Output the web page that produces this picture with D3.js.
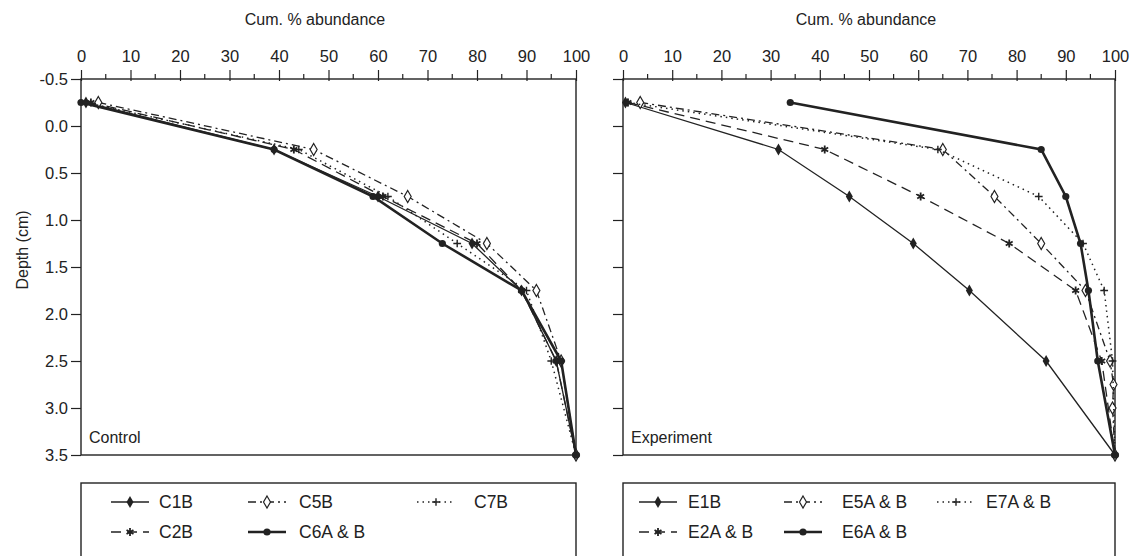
<!DOCTYPE html>
<html><head><meta charset="utf-8">
<script src="https://cdn.jsdelivr.net/npm/d3@7"></script>
<style>body{margin:0;background:#fff}svg text{font-family:"Liberation Sans",Arial,sans-serif;fill:#222}</style>
</head><body><svg id="c" width="1134" height="556"></svg>
<script>
const depths = [-0.25, 0.25, 0.75, 1.25, 1.75, 2.5, 3.5];
const depthsE5 = [-0.25, 0.25, 0.75, 1.25, 1.75, 2.5, 2.75, 3.0, 3.5];
const xTicks = [0,10,20,30,40,50,60,70,80,90,100];
const yTicks = [-0.5,0,0.5,1,1.5,2,2.5,3,3.5];
const controlNames = ["C1B","C2B","C5B","C6A & B","C7B"];
const C1B = [1, 39, 60, 79, 89, 96, 100];
const C2B = [2, 43, 61, 80, 89, 96, 100];
const C5B = [3.5, 47, 66, 82, 92, 97, 100];
const C6AB = [0, 39, 59, 73, 89, 97, 100];
const C7B = [1, 44, 62, 76, 90, 95, 100];
const expNames = ["E1B","E2A & B","E5A & B","E6A & B","E7A & B"];
const E1B = [0.5, 31.6, 46, 59, 70.4, 86, 100];
const E2AB = [1, 41, 60.5, 78.5, 92, 97.3, 100];
const E5AB = [3.5, 65, 75.5, 85, 94, 99, 99.7, 99.5, 100];
const E6AB = [34, 85, 90, 93, 94.6, 96.5, 100];
const E7AB = [1, 64, 84.5, 93.5, 97.8, 99.5, 100];

const styles = [
  {dash:null, w:1.3, marker:"diamond"},
  {dash:"10,6", w:1.3, marker:"star"},
  {dash:"8,4,2,4", w:1.3, marker:"odiamond"},
  {dash:null, w:2.6, marker:"circle"},
  {dash:"1.5,4", w:1.5, marker:"plus"}
];

const svg = d3.select("#c");
const yS = d3.scaleLinear().domain([-0.5,3.5]).range([79,455]);

const symAsterisk = {draw(ctx,size){const r=Math.sqrt(size)/2;for(let i=0;i<3;i++){const a=i*Math.PI/3+Math.PI/2;ctx.moveTo(r*Math.cos(a),r*Math.sin(a));ctx.lineTo(-r*Math.cos(a),-r*Math.sin(a));}}};
const symPlus = {draw(ctx,size){const r=Math.sqrt(size)/2;ctx.moveTo(-r,0);ctx.lineTo(r,0);ctx.moveTo(0,-r);ctx.lineTo(0,r);}};
function marker(g, type, x, y){
  const tr = `translate(${x},${y})`;
  if(type==="diamond") g.append("path").attr("d",d3.symbol(d3.symbolDiamond,42)()).attr("transform",tr).attr("fill","#222");
  else if(type==="odiamond") g.append("path").attr("d",d3.symbol(d3.symbolDiamond,42)()).attr("transform",tr).attr("fill","#fff").attr("stroke","#222").attr("stroke-width",1.2);
  else if(type==="circle") g.append("circle").attr("cx",x).attr("cy",y).attr("r",3.6).attr("fill","#222");
  else if(type==="plus") g.append("path").attr("d",d3.symbol(symPlus,60)()).attr("transform",tr).attr("fill","none").attr("stroke","#222").attr("stroke-width",1.4);
  else if(type==="star") g.append("path").attr("d",d3.symbol(symAsterisk,64)()).attr("transform",tr).attr("fill","none").attr("stroke","#222").attr("stroke-width",1.8);
}

function panel(x0,x1,series,depthSets,label,showY,names,legX,titleX){
  const xS = d3.scaleLinear().domain([0,100]).range([x0,x1]);
  const g = svg.append("g");
  g.append("text").attr("x",titleX).attr("y",25).attr("text-anchor","middle").attr("font-size",16).text("Cum. % abundance");
  const top = g.append("g").attr("transform",`translate(0,${yS(-0.5)})`);
  top.call(d3.axisTop(xS).tickValues(xTicks).tickSize(9).tickPadding(8).tickFormat(d3.format("d")));
  top.selectAll("text").attr("font-size",16.5).attr("font-family","Liberation Sans, Arial, sans-serif").attr("fill","#222");
  top.selectAll(".tick line").attr("y2",-9).attr("y1",2);
  top.select(".domain").remove();
  top.selectAll(".minor").data(d3.range(5,100,10)).enter().append("line")
    .attr("x1",d=>xS(d)).attr("x2",d=>xS(d)).attr("y1",0).attr("y2",-5);
  top.selectAll("line").attr("stroke","#222").attr("stroke-width",1.2);
  const la = g.append("g").attr("transform",`translate(${x0},0)`);
  la.call(d3.axisLeft(yS).tickValues(yTicks).tickSize(10).tickPadding(3)
    .tickFormat(showY?(d=>d.toFixed(1)):""));
  la.select(".domain").remove();
  la.selectAll("text").attr("font-size",16.5).attr("font-family","Liberation Sans, Arial, sans-serif").attr("fill","#222");
  la.selectAll("line").attr("stroke","#222").attr("stroke-width",1.2);
  g.append("rect").attr("x",x0).attr("y",yS(-0.5)).attr("width",x1-x0).attr("height",yS(3.5)-yS(-0.5))
    .attr("fill","none").attr("stroke","#222").attr("stroke-width",1.4);
  const line = d3.line().x(d=>xS(d[0])).y(d=>yS(d[1]));
  series.forEach((vals,i)=>{
    const st = styles[i];
    const dd = depthSets[i];
    const pts = vals.map((v,j)=>[v,dd[j]]);
    g.append("path").attr("d",line(pts)).attr("fill","none").attr("stroke","#222")
      .attr("stroke-width",st.w).attr("stroke-dasharray",st.dash);
    pts.forEach(p=>marker(g,st.marker,xS(p[0]),yS(p[1])));
  });
  g.append("text").attr("x",x0+8).attr("y",yS(3.5)-12).attr("font-size",16).text(label);
  const lg = svg.append("g");
  lg.append("rect").attr("x",x0).attr("y",483).attr("width",x1-x0).attr("height",100).attr("fill","none").attr("stroke","#222").attr("stroke-width",1.4);
  const order = [[0,0,0],[2,1,0],[4,2,0],[1,0,1],[3,1,1]];
  order.forEach(([si,col,row])=>{
    const st = styles[si];
    const cx = x0 + legX[col][0], ty = 502 + row*30;
    lg.append("line").attr("x1",cx-19).attr("x2",cx+19).attr("y1",ty).attr("y2",ty).attr("stroke","#222")
      .attr("stroke-width",st.w).attr("stroke-dasharray",st.dash);
    marker(lg,st.marker,cx,ty);
    lg.append("text").attr("x",x0+legX[col][1]).attr("y",ty+6).attr("font-size",17.5).text(names[si]);
  });
}
panel(81,576,[C1B,C2B,C5B,C6AB,C7B],[depths,depths,depths,depths,depths],"Control",true,controlNames,[[49,78],[186,218],[355,393]],315);
panel(623,1115,[E1B,E2AB,E5AB,E6AB,E7AB],[depths,depths,depthsE5,depths,depths],"Experiment",false,expNames,[[35,65],[180,219],[333,363]],866);
svg.append("text").attr("transform","translate(28,250) rotate(-90)").attr("text-anchor","middle").attr("font-size",16).text("Depth (cm)");
</script></body></html>
